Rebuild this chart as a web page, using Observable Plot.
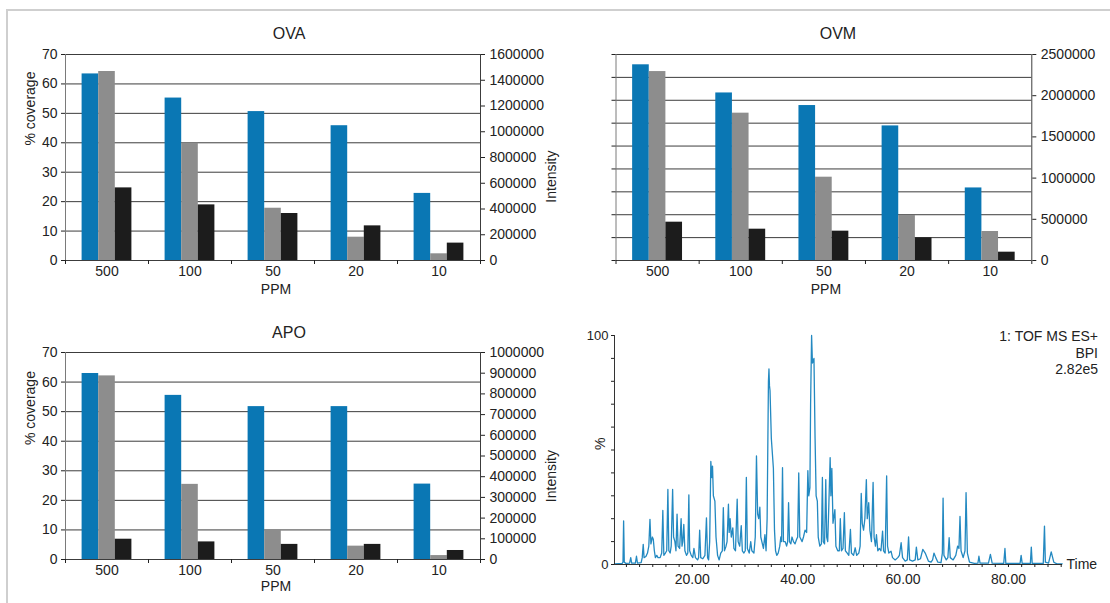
<!DOCTYPE html>
<html>
<head>
<meta charset="utf-8">
<script src="https://cdn.jsdelivr.net/npm/d3@7"></script>
<script src="https://cdn.jsdelivr.net/npm/@observablehq/plot@0.6"></script>
<style>
  html, body { margin: 0; padding: 0; background: #fff; }
  #wrap { position: relative; width: 1110px; height: 603px; overflow: hidden; background: #fff;
          font-family: "Liberation Sans", Arial, sans-serif; }
  #border { position: absolute; left: 6px; top: 9px; width: 1120px; height: 620px;
            border-left: 2px solid #cfcfcf; border-top: 2px solid #cfcfcf; }
</style>
</head>
<body>
<div id="wrap"><div id="border"></div></div>
<script>
// ---------- data ----------
const ppm = ["500", "100", "50", "20", "10"];

const ovaCoverage   = [63.4, 55.2, 50.6, 45.8, 22.8];
const ovaIntensityA = [1468000, 911000, 406000, 181000, 52000];
const ovaIntensityB = [564000, 432000, 365000, 269000, 135000];
const ovaLeftTicks  = [0, 10, 20, 30, 40, 50, 60, 70];
const ovaRightTicks = [0, 200000, 400000, 600000, 800000, 1000000, 1200000, 1400000, 1600000];

const ovmCoverage   = [85.5, 73.2, 67.7, 58.8, 31.7];
const ovmIntensityA = [2293000, 1788000, 1011000, 546000, 352000];
const ovmIntensityB = [465000, 380000, 356000, 275000, 101000];
const ovmLeftTicks  = [0, 10, 20, 30, 40, 50, 60, 70, 80, 90];
const ovmRightTicks = [0, 500000, 1000000, 1500000, 2000000, 2500000];

const apoCoverage   = [62.9, 55.5, 51.7, 51.7, 25.5];
const apoIntensityA = [887000, 363000, 144000, 64500, 19000];
const apoIntensityB = [98000, 85000, 73000, 73000, 43500];
const apoLeftTicks  = [0, 10, 20, 30, 40, 50, 60, 70];
const apoRightTicks = [0, 100000, 200000, 300000, 400000, 500000, 600000, 700000, 800000, 900000, 1000000];

// chromatogram: [time (min), % of base peak]
const chromatogram = [
[5.24,0.3],[6.7,0.5],[6.85,1],[6.97,19],[7.1,1],[7.4,0.5],[8.1,0.6],[8.32,3],[8.5,0.6],[9.2,0.6],[9.41,3.6],[9.6,0.6],
[10.3,0.8],[10.5,3],[10.69,8.8],[10.85,3],[11.2,3.5],[11.5,5],[11.75,8],[11.97,19.7],[12.15,9],[12.42,12],[12.6,11],[12.8,6],
[13.0,3],[13.26,4],[13.5,3],[13.9,3],[14.2,5],[14.41,23.6],[14.6,4],[14.9,5],[15.15,6],[15.37,32.8],[15.55,6],[15.8,5],
[16.0,8],[16.27,32.8],[16.45,12],[16.7,10],[16.9,6],[17.11,22],[17.3,8],[17.6,7],[17.88,20],[18.05,8],[18.2,10],[18.39,17.5],
[18.6,6],[18.9,4],[19.15,5],[19.35,30.4],[19.5,6],[19.8,4],[20.1,3],[20.31,7],[20.6,3],[21.0,2],[21.2,3],[21.4,15],[21.6,3],
[22.0,2.5],[22.4,4],[22.69,20.4],[22.9,3],[23.1,2],[23.3,10],[23.52,45],[23.7,38],[23.84,43],[24.0,30],[24.29,27.7],[24.5,12],
[24.8,4],[25.1,2],[25.4,5],[25.7,6],[25.89,24.8],[26.1,6],[26.4,8],[26.6,10],[26.86,26.3],[27.0,14],[27.18,20],[27.4,12],
[27.69,16],[27.9,7],[28.2,6],[28.52,28.5],[28.7,10],[29.0,8],[29.29,17],[29.5,6],[29.8,5],[30.05,6],[30.26,38],[30.45,7],
[30.8,5],[31.09,10],[31.3,6],[31.7,5],[31.95,12],[32.18,47.4],[32.4,22],[32.6,20],[32.82,25],[33.0,12],[33.3,9],[33.5,7],
[33.78,13],[34.0,6],[34.2,20],[34.45,80],[34.55,85.4],[34.65,78],[34.75,76],[35.0,55],[35.39,42],[35.6,15],[35.8,6],[36.03,4],
[36.3,5],[36.6,8],[36.8,12],[36.95,10],[37.12,42.3],[37.3,10],[37.63,10],[37.9,8],[38.1,10],[38.27,27],[38.45,10],[38.7,9],
[38.92,12],[39.2,10],[39.5,9],[39.8,11],[40.0,12],[40.2,40],[40.4,12],[40.84,10],[41.1,12],[41.4,15],[41.7,14],[41.93,41],
[42.1,30],[42.32,33.6],[42.45,70],[42.64,100],[42.8,88],[43.09,90],[43.3,55],[43.5,30],[43.73,27.7],[43.9,12],[44.2,8],
[44.5,9],[44.69,38],[44.85,10],[45.1,9],[45.33,37],[45.5,12],[45.7,10],[45.9,25],[46.16,46.7],[46.3,30],[46.48,42],[46.7,18],
[47.06,24],[47.25,8],[47.6,6],[47.9,6],[48.09,20],[48.3,6],[48.6,7],[48.86,22.6],[49.05,6],[49.4,5],[49.7,4],[50.01,15.3],
[50.2,5],[50.6,4],[50.91,7.3],[51.2,4],[51.6,5],[51.85,8],[52.06,31],[52.25,18],[52.5,15],[52.75,20],[53.03,37],[53.2,20],
[53.48,27],[53.7,15],[54.0,10],[54.31,35.8],[54.5,12],[54.75,8],[54.95,13],[55.2,6],[55.5,7],[55.8,6],[56.11,14.6],[56.3,6],
[56.6,5],[56.88,38.7],[57.05,8],[57.3,5],[57.71,5.8],[58.0,3],[58.5,2],[59.0,3],[59.3,4],[59.63,9.5],[59.9,3],[60.4,1.5],
[60.8,2],[61.04,12],[61.25,2],[61.8,1.5],[62.3,2],[62.52,7.6],[62.8,2],[63.3,2.5],[63.74,6.6],[64.2,5],[64.8,1.5],[65.3,1],
[65.6,2],[65.86,5],[66.2,3],[66.6,1],[67.2,0.8],[67.45,5],[67.59,29],[67.75,4],[68.2,2],[68.5,3],[68.74,11.7],[68.95,3],
[69.5,2],[70.0,4],[70.35,8],[70.6,7],[70.8,21],[71.0,6],[71.4,3],[71.75,6],[71.95,31.4],[72.2,5],[72.6,1],[73.5,0.5],
[74.2,0.6],[74.39,3.6],[74.6,0.6],[76.2,0.6],[76.57,4.4],[76.9,0.6],[79.1,0.5],[79.33,7],[79.5,0.5],[82.2,0.5],[82.4,4],
[82.6,0.5],[84.15,0.5],[84.33,7.6],[84.5,0.5],[86.6,0.5],[86.83,16.8],[87.0,1],[87.6,0.6],[88.11,5.5],[88.6,1],[89.2,0.3],[90.2,0.3]
];
const chromYLabels = [0, 100];
const chromXLabels = [20, 40, 60, 80];
const chromInfo = "1: TOF MS ES+\nBPI\n2.82e5";

// ---------- styles ----------
const BLUE = "#0a77b4", GRAY = "#8d8d8d", BLACK = "#1c1c1c", LINE = "#2389c1";
const FONT = "'Liberation Sans', Arial, sans-serif";
const wrap = document.getElementById("wrap");

function place(svg, left, top) {
  svg.style.position = "absolute";
  svg.style.left = left + "px";
  svg.style.top = top + "px";
  wrap.appendChild(svg);
}

function barPanel(o) {
  const leftMax = o.leftTicks[o.leftTicks.length - 1];
  const rightMax = o.rightTicks[o.rightTicks.length - 1];
  const f = leftMax / rightMax;
  const bar = (vals, k, scale, fill) =>
    Plot.rectY(vals.map((v, i) => ({i, k, v: v * scale})), {
      x1: d => d.i + 0.2 + 0.2 * d.k,
      x2: d => d.i + 0.4 + 0.2 * d.k,
      y1: 0, y2: "v", fill
    });
  const marks = [
    Plot.ruleY(o.leftTicks.filter(t => t > 0), {stroke: "#3c3c3c", strokeWidth: 1}),
    bar(o.coverage, 0, 1, BLUE),
    bar(o.intA, 1, f, GRAY),
    bar(o.intB, 2, f, BLACK),
    Plot.ruleX([0], {stroke: "#7a7a7a"}),
    Plot.ruleX([5], {stroke: "#3c3c3c"}),
    Plot.ruleY([0], {stroke: "#3c3c3c"}),
    Plot.axisY({ticks: o.leftTicks, anchor: "left", tickSize: 4, tickPadding: 4, label: null,
                tickFormat: o.leftLabels ? (d => String(d)) : (() => "")}),
    Plot.axisY({ticks: o.rightTicks.map(t => t * f), anchor: "right", tickSize: 4, tickPadding: 5, label: null,
                tickFormat: d => String(Math.round(d / f))}),
    Plot.axisX({ticks: [0, 1, 2, 3, 4, 5], tickSize: 4, tickFormat: () => "", label: null}),
    Plot.axisX({ticks: [0.5, 1.5, 2.5, 3.5, 4.5], tickSize: 0, tickPadding: 6, label: null,
                tickFormat: d => ppm[Math.floor(d)]}),
    Plot.text([o.title], {text: d => d, frameAnchor: "top", lineAnchor: "middle",
      dx: o.titleDx, dy: o.titleDy, fontSize: 16}),
    Plot.text(["PPM"], {text: d => d, frameAnchor: "bottom", lineAnchor: "middle",
      dx: o.ppmDx, dy: o.ppmDy, fontSize: 14})
  ];
  if (o.leftLabels) {
    marks.push(Plot.text(["% coverage"], {text: d => d, frameAnchor: "left", lineAnchor: "middle", rotate: -90,
      dx: -35, dy: o.covDy, fontSize: 14}));
    marks.push(Plot.text(["Intensity"], {text: d => d, frameAnchor: "right", lineAnchor: "middle", rotate: -90,
      dx: 71, dy: o.intDy, fontSize: 14}));
  }
  return Plot.plot({
    width: o.width, height: o.height,
    marginLeft: o.mL, marginRight: o.mR, marginTop: o.mT, marginBottom: o.mB,
    x: {domain: [0, 5]},
    y: {domain: [0, leftMax]},
    style: {fontFamily: FONT, fontSize: "14px", color: "#222", background: "transparent", overflow: "visible"},
    marks
  });
}

place(barPanel({
  title: "OVA", coverage: ovaCoverage, intA: ovaIntensityA, intB: ovaIntensityB,
  leftTicks: ovaLeftTicks, rightTicks: ovaRightTicks, leftLabels: true,
  width: 555, height: 300, mL: 65, mR: 75, mT: 54, mB: 40,
  titleDx: 16, titleDy: -21, ppmDx: 3, ppmDy: 29, covDy: -12, intDy: -7
}), 0, 0);

place(barPanel({
  title: "OVM", coverage: ovmCoverage, intA: ovmIntensityA, intB: ovmIntensityB,
  leftTicks: ovmLeftTicks, rightTicks: ovmRightTicks, leftLabels: false,
  width: 555, height: 300, mL: 60.5, mR: 78.7, mT: 54, mB: 40,
  titleDx: 14, titleDy: -21, ppmDx: 2, ppmDy: 29
}), 555, 0);

place(barPanel({
  title: "APO", coverage: apoCoverage, intA: apoIntensityA, intB: apoIntensityB,
  leftTicks: apoLeftTicks, rightTicks: apoRightTicks, leftLabels: true,
  width: 555, height: 303, mL: 65, mR: 75, mT: 52, mB: 44,
  titleDx: 16, titleDy: -20, ppmDx: 3, ppmDy: 27, covDy: -11, intDy: -6
}), 0, 300);

const chrom = Plot.plot({
  width: 555, height: 303,
  marginLeft: 59, marginRight: 48, marginTop: 35, marginBottom: 39,
  x: {domain: [5.24, 90.25]},
  y: {domain: [0, 100]},
  style: {fontFamily: FONT, fontSize: "14px", color: "#222", background: "transparent", overflow: "visible"},
  marks: [
    Plot.line(chromatogram, {x: d => d[0], y: d => d[1], stroke: LINE, strokeWidth: 1.3}),
    Plot.ruleX([5.24], {stroke: "#333"}),
    Plot.ruleY([0], {stroke: "#333"}),
    Plot.axisY({ticks: d3.range(0, 101, 10), tickSize: 3, tickFormat: () => "", label: null}),
    Plot.axisY({ticks: chromYLabels, tickSize: 3, tickPadding: 3, label: null, fontSize: 13}),
    Plot.axisX({ticks: d3.range(7.5, 90.1, 2.5), tickSize: 3, tickFormat: () => "", label: null}),
    Plot.axisX({ticks: chromXLabels, tickSize: 3, tickPadding: 7, label: null, tickFormat: d => d.toFixed(2)}),
    Plot.text(["%"], {text: d => d, frameAnchor: "left", lineAnchor: "middle", dx: -14, rotate: -90, fontSize: 14}),
    Plot.text(["Time"], {text: d => d, frameAnchor: "bottom-right", lineAnchor: "middle",
      dx: 4, textAnchor: "start", fontSize: 14}),
    Plot.text([chromInfo], {text: d => d, frameAnchor: "top-right", lineAnchor: "middle", textAnchor: "end",
      dx: 35.5, dy: 17, lineHeight: 1.18, fontSize: 14})
  ]
});
place(chrom, 555, 300);
</script>
</body>
</html>
